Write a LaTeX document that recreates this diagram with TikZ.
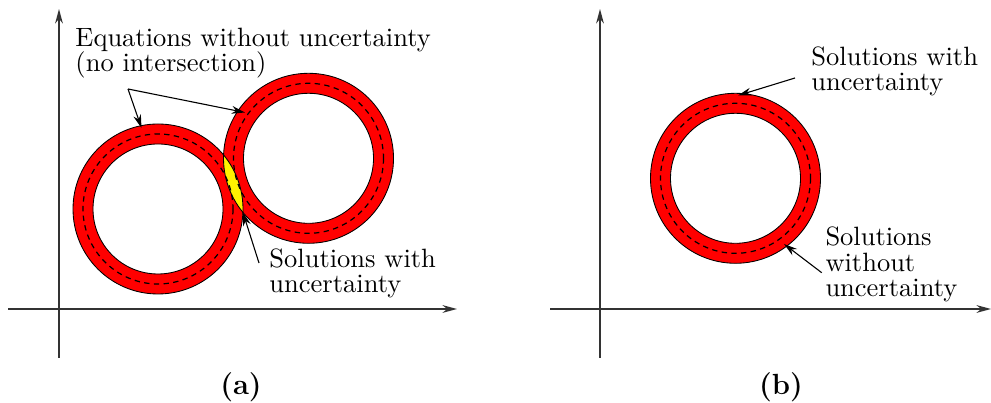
\documentclass[tikz,border=0pt]{standalone}
\usetikzlibrary{arrows.meta,calc}
\begin{document}
\begin{tikzpicture}[x=0.4115pt,y=-0.4115pt,
  axis/.style={line width=0.55pt,draw=black!80,-{Stealth[length=6pt,width=3.2pt]}},
  ptr/.style={line width=0.45pt,-{Stealth[length=5.5pt,width=3.2pt]}},
  ringfill/.style={fill=red,even odd rule},
  outline/.style={draw=black,line width=0.35pt},
  midline/.style={draw=black,dash pattern=on 2.2pt off 1.8pt,line width=0.5pt},
  lbl/.style={anchor=base west,inner sep=0pt,font=\fontsize{10.9}{12}\selectfont},
  captxt/.style={anchor=base,inner sep=0pt,font=\fontsize{12}{14}\selectfont\bfseries}]
\useasboundingbox (0,0) rectangle (991,403);
% centres
\coordinate (c1) at (158,209);
\coordinate (c2) at (308.5,158.3);
\coordinate (c3) at (735.5,178.3);
% axes
\coordinate (ya0) at (59,358); \coordinate (ya1) at (59,9);
\coordinate (xa0) at (8,309);  \coordinate (xa1) at (457,309);
\coordinate (yb0) at (600,358); \coordinate (yb1) at (600,9);
\coordinate (xb0) at (550,309); \coordinate (xb1) at (991,309);
\draw[axis] (ya0) -- (ya1);
\draw[axis] (xa0) -- (xa1);
\draw[axis] (yb0) -- (yb1);
\draw[axis] (xb0) -- (xb1);
% rings
\path[ringfill] (c1) circle (85) (c1) circle (65);
\path[ringfill] (c2) circle (85) (c2) circle (65);
\path[ringfill] (c3) circle (85) (c3) circle (65);
% lens
\begin{scope}
  \clip (c1) circle (85);
  \fill[yellow] (c2) circle (85);
\end{scope}
\path[outline] (c1) circle (85) (c1) circle (65);
\path[outline] (c2) circle (85) (c2) circle (65);
\path[outline] (c3) circle (85) (c3) circle (65);
\path[midline] (c1) circle (75);
\path[midline] (c2) circle (75);
\path[midline] (c3) circle (75);
% panel (a) labels
\node[lbl] (eq1) at (75,47) {Equations without uncertainty};
\node[lbl] (eq2) at (75,72) {(no intersection)};
\coordinate (eqfork) at (128,89);
\coordinate (tipl) at (141.5,128);
\coordinate (tipr) at (245,112.5);
\draw[ptr] (eqfork) -- (tipl);
\draw[ptr] (eqfork) -- (tipr);
\node[lbl] (sa1) at (269,268) {Solutions with};
\node[lbl] (sa2) at (269,292.5) {uncertainty};
\coordinate (sastart) at (259,263);
\coordinate (lensbot) at (242.9,212.4);
\draw[ptr] (sastart) -- (lensbot);
% panel (b) labels
\node[lbl] (sb1) at (811,66) {Solutions with};
\node[lbl] (sb2) at (811,91) {uncertainty};
\coordinate (sbstart) at (795,78);
\coordinate (sbtip) at (738,95.5);
\draw[ptr] (sbstart) -- (sbtip);
\node[lbl] (sc1) at (825,246) {Solutions};
\node[lbl] (sc2) at (825,271.5) {without};
\node[lbl] (sc3) at (825,297) {uncertainty};
\coordinate (scstart) at (821.7,272.7);
\coordinate (sctip) at (784,244);
\draw[ptr] (scstart) -- (sctip);
% captions
\node[captxt] (capa) at (241,395) {(a)};
\node[captxt] (capb) at (781,395) {(b)};
\end{tikzpicture}
\end{document}
